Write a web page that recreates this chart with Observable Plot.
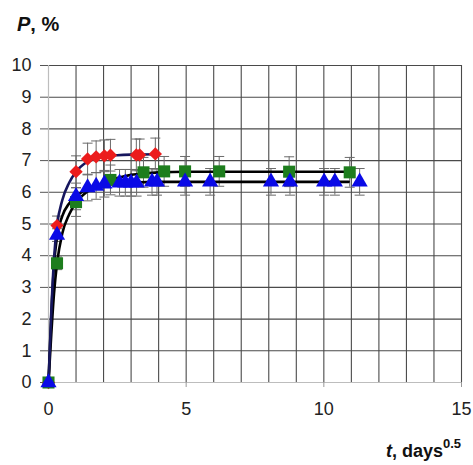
<!DOCTYPE html>
<html>
<head>
<meta charset="utf-8">
<script src="https://cdn.jsdelivr.net/npm/d3@7"></script>
<script src="https://cdn.jsdelivr.net/npm/@observablehq/plot@0.6"></script>
<style>
  html, body { margin: 0; padding: 0; background: #fff; }
  #wrap { position: relative; width: 473px; height: 465px; font-family: "Liberation Sans", Arial, sans-serif; }
  #title { position: absolute; left: 17px; top: 13px; font-size: 20px; font-weight: bold; color: #111; }
  #xlabel { position: absolute; left: 386px; top: 438px; font-size: 18px; font-weight: bold; color: #111; white-space: nowrap; }
  #xlabel sup { font-size: 13px; position: relative; top: -2px; }
</style>
</head>
<body>
<div id="wrap">
  <div id="chart"></div>
  <div id="title"><i>P</i>, %</div>
  <div id="xlabel"><i>t</i>, days<sup>0.5</sup></div>
</div>
<script>
// ---- data ----
const redT  = [0, 0.31, 1.0, 1.42, 1.73, 2.03, 2.25, 3.19, 3.31, 3.88];
const redP  = [0, 4.95, 6.65, 7.05, 7.12, 7.15, 7.17, 7.18, 7.18, 7.21];
const redE  = [0, 0.3, 0.5, 0.5, 0.5, 0.5, 0.5, 0.5, 0.5, 0.5];

const greenT = [0, 0.31, 1.0, 2.25, 3.45, 4.2, 4.96, 6.2, 8.74, 10.94];
const greenP = [0, 3.76, 5.69, 6.39, 6.63, 6.66, 6.66, 6.66, 6.65, 6.63];
const greenE = [0, 0.2, 0.45, 0.47, 0.47, 0.47, 0.47, 0.47, 0.47, 0.47];

const blueT = [0, 0.31, 1.0, 1.42, 1.73, 2.03, 2.58, 2.79, 3.0, 3.2, 3.76, 3.94, 4.96, 5.87, 8.08, 8.77, 10.01, 10.4, 11.3];
const blueP = [0, 4.65, 5.87, 6.15, 6.2, 6.27, 6.3, 6.3, 6.3, 6.3, 6.33, 6.33, 6.33, 6.33, 6.33, 6.33, 6.33, 6.33, 6.33];
const blueE = [0, 0.2, 0.42, 0.42, 0.42, 0.42, 0.42, 0.42, 0.42, 0.42, 0.42, 0.42, 0.42, 0.42, 0.42, 0.42, 0.42, 0.42, 0.42];

// fitted curves
const redCurveT = [0, 0.1, 0.2, 0.31, 0.5, 0.75, 1.0, 1.3, 1.6, 2.0, 2.5, 3.0, 3.9];
const redCurveP = [0, 2.2, 3.9, 4.95, 5.75, 6.3, 6.65, 6.9, 7.03, 7.12, 7.17, 7.19, 7.2];
const blueCurveT = [0, 0.1, 0.2, 0.31, 0.5, 0.75, 1.0, 1.3, 1.6, 2.0, 2.5, 3.0, 4.0, 6.0, 10.9];
const blueCurveP = [0, 2.1, 3.7, 4.6, 5.25, 5.65, 5.87, 6.05, 6.15, 6.24, 6.29, 6.31, 6.33, 6.33, 6.33];
const greenCurveT = [0, 0.1, 0.2, 0.31, 0.5, 0.75, 1.0, 1.3, 1.6, 2.0, 2.5, 3.0, 3.5, 4.0, 5.0, 7.0, 10.9];
const greenCurveP = [0, 1.5, 2.8, 3.76, 4.7, 5.3, 5.68, 5.95, 6.12, 6.3, 6.45, 6.55, 6.6, 6.63, 6.65, 6.65, 6.65];

const xGrid = [1,2,3,4,5,6,7,8,9,10,11,12,13,14,15];
const yGrid = [1,2,3,4,5,6,7,8,9,10];
const xTicks = [0, 5, 10, 15];
const yTicks = [0,1,2,3,4,5,6,7,8,9,10];

// ---- build tables ----
const zip = (T, P, E) => T.map((t, i) => ({t, p: P[i], e: E ? E[i] : 0}));
const red = zip(redT, redP, redE);
const green = zip(greenT, greenP, greenE);
const blue = zip(blueT, blueP, blueE);
const redC = zip(redCurveT, redCurveP);
const greenC = zip(greenCurveT, greenCurveP);
const blueC = zip(blueCurveT, blueCurveP);
const allPts = [...red, ...green, ...blue].filter(d => d.e > 0);

const capSymbol = { draw(ctx, size) { ctx.moveTo(-5, 0); ctx.lineTo(5, 0); } };

const chart = Plot.plot({
  width: 473,
  height: 465,
  marginTop: 65,
  marginLeft: 48,
  marginRight: 12,
  marginBottom: 83,
  style: { fontFamily: "Liberation Sans, Arial, sans-serif", color: "#222", background: "#fff" },
  x: { domain: [0, 15] },
  y: { domain: [0, 10] },
  marks: [
    Plot.ruleX(xGrid, { stroke: "#4a4a4a", strokeWidth: 1.1 }),
    Plot.ruleY(yGrid, { stroke: "#4a4a4a", strokeWidth: 1.1 }),
    Plot.ruleX([0], { stroke: "#bdbdbd", strokeWidth: 1.2 }),
    Plot.ruleY([0], { stroke: "#bdbdbd", strokeWidth: 1.2 }),
    Plot.axisY({ ticks: yTicks, tickSize: 8, tickPadding: 9, fontSize: 18, stroke: "#555", label: null }),
    Plot.axisX({ ticks: xTicks, tickSize: 5, tickPadding: 15, fontSize: 18, stroke: "#999", label: null }),
    // error bars
    Plot.ruleX(allPts, { x: "t", y1: d => d.p - d.e, y2: d => d.p + d.e, stroke: "#6a6a6a", strokeWidth: 1 }),
    Plot.dot(allPts, { x: "t", y: d => d.p + d.e, symbol: capSymbol, r: 5, stroke: "#6a6a6a", strokeWidth: 1, fill: "none" }),
    Plot.dot(allPts, { x: "t", y: d => d.p - d.e, symbol: capSymbol, r: 5, stroke: "#6a6a6a", strokeWidth: 1, fill: "none" }),
    // fitted curves
    Plot.line(greenC, { x: "t", y: "p", stroke: "#000", strokeWidth: 2.6, curve: "monotone-x" }),
    Plot.line(blueC, { x: "t", y: "p", stroke: "#000", strokeWidth: 2.6, curve: "monotone-x" }),
    Plot.line(redC, { x: "t", y: "p", stroke: "#16165e", strokeWidth: 2.6, curve: "monotone-x" }),
    // markers
    Plot.dot(red, { x: "t", y: "p", symbol: "diamond2", r: 6, fill: "#ec1c1c", stroke: "none" }),
    Plot.dot(green, { x: "t", y: "p", symbol: "square", r: 6.8, fill: "#1d7d1d", stroke: "none" }),
    Plot.dot(blue, { x: "t", y: "p", symbol: "triangle", r: 6, fill: "#0a0ae6", stroke: "none" })
  ]
});
document.getElementById("chart").appendChild(chart);
</script>
</body>
</html>
